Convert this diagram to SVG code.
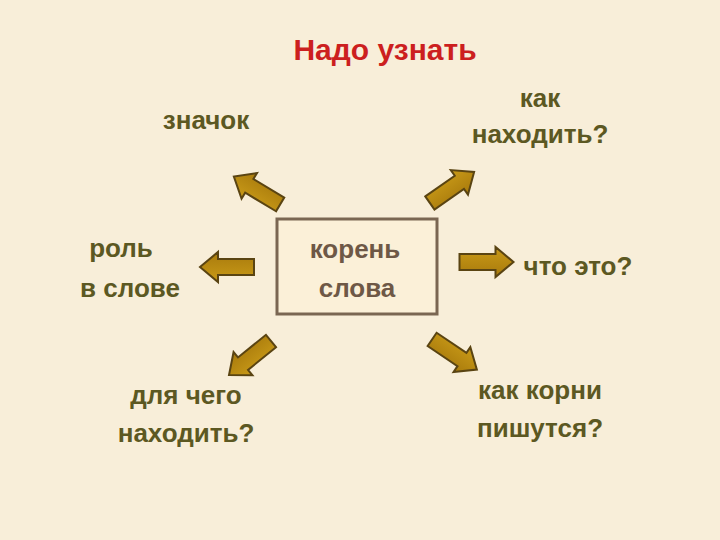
<svg xmlns="http://www.w3.org/2000/svg" width="720" height="540" viewBox="0 0 720 540">
<defs>
<style>
.lbl{font-family:"Liberation Sans",Arial,sans-serif;font-weight:bold;font-size:26px;fill:#5c5822;text-anchor:middle}
.ctr{font-family:"Liberation Sans",Arial,sans-serif;font-weight:bold;font-size:26px;fill:#6e5846;text-anchor:middle}
.ttl{font-family:"Liberation Sans",Arial,sans-serif;font-weight:bold;font-size:30px;fill:#cc1f1f;text-anchor:middle}
.arr{fill:url(#ag);stroke:#5a4412;stroke-width:2;stroke-linejoin:miter}
</style>
<linearGradient id="ag" x1="0" y1="0" x2="0" y2="1">
<stop offset="0" stop-color="#c99a18"/>
<stop offset="1" stop-color="#a87a0c"/>
</linearGradient>
<path id="arrow" d="M-27,-8 L9,-8 L9,-15 L27,0 L9,15 L9,8 L-27,8 Z"/>
</defs>
<rect width="720" height="540" fill="#f8eed9"/>
<text class="ttl" x="385" y="60">Надо узнать</text>
<g id="center">
<rect x="277" y="219" width="160" height="95" fill="#fbf0d8" stroke="#7a6652" stroke-width="3"/>
<text class="ctr" x="355" y="258">корень</text>
<text class="ctr" x="357" y="297">слова</text>
</g>
<g id="connectors">
<use href="#arrow" class="arr" transform="translate(257,190.5) rotate(-149)"/>
<use href="#arrow" class="arr" transform="translate(227,267) rotate(180)"/>
<use href="#arrow" class="arr" transform="translate(452,187.5) rotate(-35)"/>
<use href="#arrow" class="arr" transform="translate(486.5,262) rotate(0)"/>
<use href="#arrow" class="arr" transform="translate(250,358) rotate(141)"/>
<use href="#arrow" class="arr" transform="translate(454.5,354.5) rotate(34)"/>
</g>
<g id="n-znachok"><text class="lbl" x="206" y="129">значок</text></g>
<g id="n-kak"><text class="lbl" x="540" y="107">как</text><text class="lbl" x="540" y="143">находить?</text></g>
<g id="n-rol"><text class="lbl" x="121" y="257">роль</text><text class="lbl" x="130" y="297">в слове</text></g>
<g id="n-chto"><text class="lbl" x="578" y="275">что это?</text></g>
<g id="n-dlya"><text class="lbl" x="186" y="404">для чего</text><text class="lbl" x="186" y="442">находить?</text></g>
<g id="n-korni"><text class="lbl" x="540" y="399">как корни</text><text class="lbl" x="540" y="437">пишутся?</text></g>
</svg>
